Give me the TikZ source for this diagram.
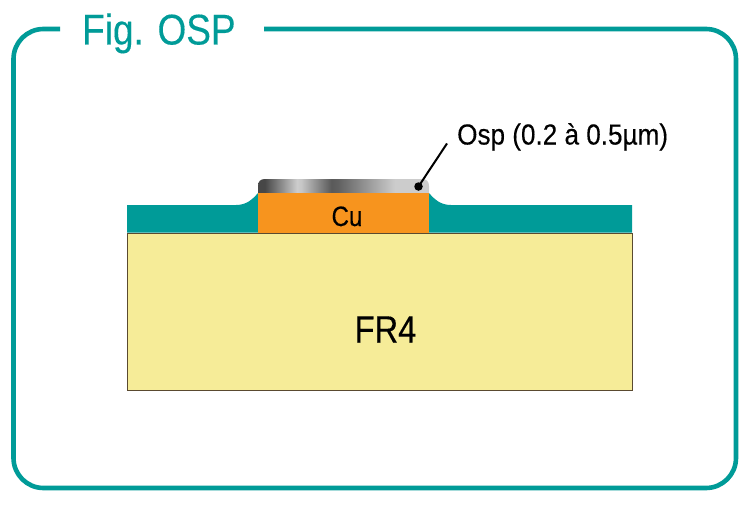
\documentclass[tikz,border=0pt]{standalone}
\usepackage{fontspec}
\setmainfont{Liberation Sans}[FakeStretch=0.86,FakeBold=0.25]
\newfontfamily\ospfont{Liberation Sans}[FakeStretch=0.9,FakeBold=0.25]
\definecolor{teal1}{HTML}{009B98}
\definecolor{cu1}{HTML}{F7941E}
\definecolor{frfill}{HTML}{F6EC98}
\definecolor{frline}{HTML}{5A4A30}
% a path's bounding box spans the middle 50bp of a 100bp shading
\pgfdeclarehorizontalshading{ospgrad}{100bp}{
  color(0bp)=(black!72);
  color(27bp)=(black!72);
  color(36.4bp)=(black!20);
  color(37.6bp)=(black!22);
  color(46.5bp)=(black!65);
  color(48.5bp)=(black!62);
  color(65bp)=(black!20);
  color(100bp)=(black!20)}
\tikzset{
  frame/.style={draw=teal1,line width=4.6pt,line cap=butt},
  lbl/.style={inner sep=0pt,text=black},
}
\begin{document}
\begin{tikzpicture}[x=1pt,y=-1pt]
\useasboundingbox (0,0) rectangle (748,506);
\fill[white] (0,0) rectangle (748,506);
% frame
\draw[frame,rounded corners=30pt] (60,29) -- (13.5,29) -- (13.5,488) -- (736,488) -- (736,29) -- (264,29);
\node[inner sep=0pt,anchor=base west,text=teal1,font=\fontsize{43}{44}\selectfont] (title) at (82,44.5) {Fig. OSP};
% solder mask
\fill[teal1] (127,232.5) -- (127,205) -- (236,205)
  .. controls (246,205) and (252,200) .. (258,193)
  -- (429,193)
  .. controls (435,200) and (441,205) .. (451,205)
  -- (632,205) -- (632,232.5) -- cycle;
% OSP layer
\shade[shading=ospgrad] (258,193.5) -- (258,186) .. controls (258,181.5) and (260.5,179) .. (265,179)
  -- (422,179) .. controls (426.5,179) and (429,181.5) .. (429,186) -- (429,193.5) -- cycle;
% copper
\node[fill=cu1,inner sep=0pt,minimum width=171pt,minimum height=39.5pt,anchor=north west] (cu) at (258,193) {};
\node[lbl,anchor=base,font=\fontsize{28}{30}\selectfont] (culbl) at (347,226) {Cu};
% FR4
\node[draw=frline,line width=1pt,fill=frfill,inner sep=0pt,minimum width=505pt,minimum height=157.5pt,anchor=north west] (fr4) at (127,232.5) {};
\node[lbl,anchor=base,font=\fontsize{38}{39}\selectfont] (frlbl) at (385.5,342.5) {FR4};
% leader
\node[circle,fill=black,inner sep=0pt,minimum size=8.5pt] (dot) at (418.5,186.5) {};
\node[lbl,anchor=base west,font=\ospfont\fontsize{29}{30}\selectfont] (osplbl) at (457,144.5) {Osp (0.2 à 0.5µm)};
\coordinate (leadend) at (447,143.5);
\draw[black,line width=2pt] (leadend) -- (dot.center);
\end{tikzpicture}
\end{document}
